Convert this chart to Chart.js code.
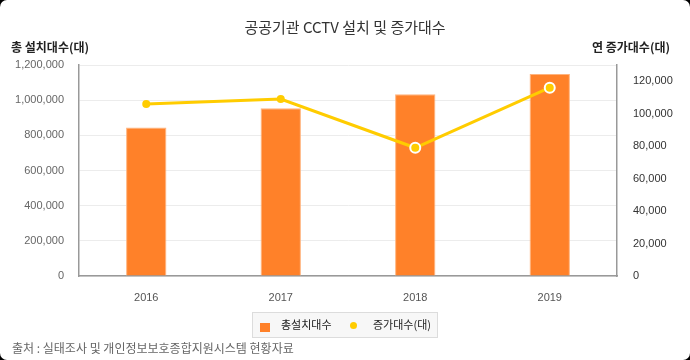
<!DOCTYPE html>
<html><head><meta charset="utf-8">
<script src="https://cdn.jsdelivr.net/npm/chart.js@4.4.0/dist/chart.umd.min.js"></script>
<style>
html,body{margin:0;padding:0;background:#000;width:690px;height:360px;overflow:hidden}
#card{position:relative;width:690px;height:360px;background:#fff;border-radius:7px;overflow:hidden;font-family:"Noto Sans CJK KR","Noto Sans",sans-serif}
#c{position:absolute;left:0;top:0;width:690px;height:360px}
.t{position:absolute;white-space:nowrap;line-height:1}
#legend{position:absolute;left:252px;top:312px;width:186px;height:26px;box-sizing:border-box;border:1px solid #dcdcdc;background:#f7f7f7}
#legend .sq{position:absolute;left:7px;top:10px;width:10px;height:9px;background:#FF8129}
#legend .dot{position:absolute;left:97px;top:9px;width:7px;height:7px;border-radius:50%;background:#FFCC00}
#legend .lt{position:absolute;top:6px;font-size:11px;color:#222;line-height:1}
</style></head><body>
<div id="card">
<canvas id="c" width="690" height="360"></canvas>
<div class="t" style="left:0;width:690px;text-align:center;top:19px;font-size:15px;color:#333">공공기관 CCTV 설치 및 증가대수</div>
<div class="t" style="left:11px;top:41px;font-size:12px;font-weight:700;color:#222">총 설치대수(대)</div>
<div class="t" style="right:20px;top:41px;font-size:12px;font-weight:700;color:#222">연 증가대수(대)</div>
<div id="legend"><div class="sq"></div><div class="lt" style="left:28px">총설치대수</div><div class="dot"></div><div class="lt" style="left:120px">증가대수(대)</div></div>
<div class="t" style="left:12px;top:342px;font-size:12px;color:#666">출처 : 실태조사 및 개인정보보호종합지원시스템 현황자료</div>
</div>
<script>
const categories = ['2016', '2017', '2018', '2019'];
const totalInstalled = [845000, 954000, 1033000, 1149000];
const yearlyIncrease = [106000, 109000, 79000, 116000];
const leftTicks = [0, 200000, 400000, 600000, 800000, 1000000, 1200000];
const rightTicks = [0, 20000, 40000, 60000, 80000, 100000, 120000];

const fmt = v => Number(v).toLocaleString('en-US');
const tickFont = {family: '"Liberation Sans", Arial, sans-serif', size: 11};

new Chart(document.getElementById('c'), {
  data: {
    labels: categories,
    datasets: [
      {
        type: 'line', label: '증가대수(대)', data: yearlyIncrease, yAxisID: 'y1', order: 0,
        borderColor: '#FFCC00', borderWidth: 3, tension: 0,
        pointBackgroundColor: '#FFCC00',
        pointRadius: [4, 4, 5, 5],
        pointBorderWidth: [0, 0, 2, 2],
        pointBorderColor: ['#FFCC00', '#FFCC00', '#ffffff', '#ffffff']
      },
      {
        type: 'bar', label: '총설치대수', data: totalInstalled, yAxisID: 'y', order: 1,
        backgroundColor: '#FF8129', borderColor: '#FFB37D', borderWidth: 1,
        categoryPercentage: 1, barPercentage: 0.3
      }
    ]
  },
  options: {
    responsive: false, animation: false,
    layout: {padding: {left: 0, right: 0, top: 65, bottom: 54}},
    plugins: {legend: {display: false}, tooltip: {enabled: false}, title: {display: false}},
    scales: {
      x: {
        grid: {display: false, drawTicks: false},
        border: {display: true, color: '#999', width: 1.5},
        ticks: {color: '#555', font: tickFont, padding: 15, maxRotation: 0},
        afterFit: s => { s.height = 30; }
      },
      y: {
        position: 'left', min: 0, max: 1200000,
        grid: {color: '#ececec', lineWidth: 1, drawTicks: false},
        border: {display: true, color: '#999', width: 1.5},
        ticks: {color: '#666', font: tickFont, padding: 15, callback: v => fmt(v)},
        afterBuildTicks: s => { s.ticks = leftTicks.map(v => ({value: v})); },
        afterFit: s => { s.width = 79; }
      },
      y1: {
        position: 'right', min: 0, max: 130000,
        grid: {display: false, drawTicks: false},
        border: {display: true, color: '#999', width: 1.5},
        ticks: {color: '#333', font: tickFont, padding: 16, callback: v => fmt(v)},
        afterBuildTicks: s => { s.ticks = rightTicks.map(v => ({value: v})); },
        afterFit: s => { s.width = 73; }
      }
    }
  }
});
</script>
</body></html>
